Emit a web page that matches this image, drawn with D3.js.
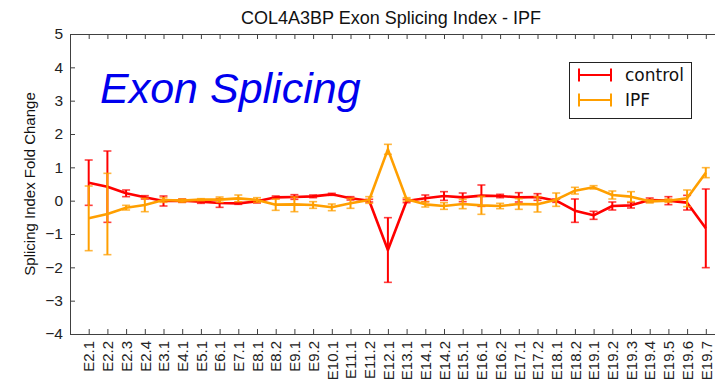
<!DOCTYPE html>
<html>
<head>
<meta charset="utf-8">
<script src="https://cdn.jsdelivr.net/npm/d3@7"></script>
<style>
  body { margin: 0; background: #fff; }
  svg { display: block; font-family: "Liberation Sans", Arial, sans-serif; }
</style>
</head>
<body>
<svg width="715" height="385"></svg>
<script>
// exon labels along the x axis
let exons = ['E2.1','E2.2','E2.3','E2.4','E3.1','E4.1','E5.1','E6.1','E7.1','E8.1',
    'E8.2','E9.1','E9.2','E10.1','E11.1','E11.2','E12.1','E13.1','E14.1','E14.2',
    'E15.1','E16.1','E16.2','E17.1','E17.2','E18.1','E18.2','E19.1','E19.2','E19.3',
    'E19.4','E19.5','E19.6','E19.7'];

// control series: mean and error
let controlMean = [0.54, 0.42, 0.22, 0.1, -0.01, 0.0, -0.03, -0.07, -0.08, -0.02,
    0.1, 0.11, 0.13, 0.19, 0.07, 0.0, -1.48, -0.01, 0.07, 0.14,
    0.1, 0.15, 0.14, 0.1, 0.11, 0.0, -0.3, -0.44, -0.16, -0.14,
    0.02, 0.0, -0.06, -0.83];
let controlErr = [0.68, 1.07, 0.1, 0.05, 0.15, 0.05, 0.05, 0.13, 0.03, 0.05,
    0.04, 0.07, 0.04, 0.03, 0.05, 0.04, 0.97, 0.05, 0.1, 0.13,
    0.13, 0.32, 0.05, 0.14, 0.1, 0.05, 0.35, 0.12, 0.12, 0.08,
    0.06, 0.12, 0.22, 1.18];

// IPF series: mean and error
let ipfMean = [-0.53, -0.4, -0.21, -0.13, 0.02, 0.0, 0.03, 0.03, 0.07, 0.02,
    -0.12, -0.11, -0.13, -0.2, -0.08, 0.02, 1.54, 0.04, -0.11, -0.16,
    -0.1, -0.14, -0.16, -0.1, -0.11, 0.03, 0.3, 0.4, 0.17, 0.12,
    -0.02, 0.0, 0.07, 0.84];
let ipfErr = [0.97, 1.22, 0.07, 0.2, 0.07, 0.05, 0.03, 0.08, 0.1, 0.07,
    0.17, 0.22, 0.1, 0.1, 0.15, 0.1, 0.15, 0.05, 0.08, 0.1,
    0.14, 0.27, 0.08, 0.16, 0.23, 0.2, 0.1, 0.05, 0.12, 0.15,
    0.05, 0.05, 0.25, 0.15];

let yTicks = [-4, -3, -2, -1, 0, 1, 2, 3, 4, 5];

let svg = d3.select('svg');
let axisColor = '#404040';

// plot area (right edge falls outside the picture, as in the original)
let plot = {l: 70, r: 724.5, t: 34, b: 334};

let xScale = d3.scaleLinear().domain([0, exons.length + 1]).range([plot.l, plot.r]);
let yScale = d3.scaleLinear().domain([-4, 5]).range([plot.b, plot.t]);

// title
svg.append('text')
    .attr('x', 391)
    .attr('y', 24)
    .attr('text-anchor', 'middle')
    .attr('font-size', '18px')
    .attr('fill', '#111')
    .text('COL4A3BP Exon Splicing Index - IPF');

// left axis
let yAxis = svg.append('g')
    .attr('transform', 'translate(' + plot.l + ',0)')
    .call(d3.axisLeft(yScale).tickValues(yTicks).tickSizeInner(-5).tickSizeOuter(0).tickPadding(7));

// bottom axis
let xAxis = svg.append('g')
    .attr('transform', 'translate(0,' + plot.b + ')')
    .call(d3.axisBottom(xScale)
        .tickValues(d3.range(1, exons.length + 1))
        .tickFormat(i => exons[i - 1])
        .tickSizeInner(-5).tickSizeOuter(0).tickPadding(7));

xAxis.selectAll('text')
    .attr('transform', 'rotate(-90)')
    .attr('text-anchor', 'end')
    .attr('dy', '0.35em')
    .attr('x', -7)
    .attr('y', 0);

// top axis, ticks only
let topAxis = svg.append('g')
    .attr('transform', 'translate(0,' + plot.t + ')')
    .call(d3.axisTop(xScale)
        .tickValues(d3.range(1, exons.length + 1))
        .tickFormat('')
        .tickSizeInner(-5).tickSizeOuter(0));

[yAxis, xAxis, topAxis].forEach(function(g) {
    g.selectAll('path').attr('stroke', axisColor);
    g.selectAll('line').attr('stroke', axisColor);
    g.selectAll('text').attr('fill', '#222').attr('font-size', '15.5px')
        .attr('font-family', '"Liberation Sans", Arial, sans-serif');
});
xAxis.selectAll('text').attr('font-size', '15px');

// y axis label
svg.append('text')
    .attr('transform', 'translate(' + [35, (plot.t + plot.b) / 2] + ') rotate(-90)')
    .attr('text-anchor', 'middle')
    .attr('font-size', '15px')
    .attr('fill', '#111')
    .text('Splicing Index Fold Change');

// big annotation
svg.append('text')
    .attr('x', 100)
    .attr('y', 103)
    .attr('font-size', '43px')
    .attr('font-style', 'italic')
    .attr('fill', '#0000ee')
    .text('Exon Splicing');

function drawSeries(means, errs, color) {
    let g = svg.append('g');
    let capW = 4;

    for (let i = 0; i < means.length; i++) {
        let x = xScale(i + 1);
        let y1 = yScale(means[i] + errs[i]);
        let y2 = yScale(means[i] - errs[i]);
        g.append('line')
            .attr('x1', x).attr('x2', x).attr('y1', y1).attr('y2', y2)
            .attr('stroke', color).attr('stroke-width', 2);
        g.append('line')
            .attr('x1', x - capW).attr('x2', x + capW).attr('y1', y1).attr('y2', y1)
            .attr('stroke', color).attr('stroke-width', 1.6).attr('opacity', 0.75);
        g.append('line')
            .attr('x1', x - capW).attr('x2', x + capW).attr('y1', y2).attr('y2', y2)
            .attr('stroke', color).attr('stroke-width', 1.6).attr('opacity', 0.75);
    }

    let line = d3.line()
        .x((d, i) => xScale(i + 1))
        .y(d => yScale(d));

    g.append('path')
        .datum(means)
        .attr('d', line)
        .attr('fill', 'none')
        .attr('stroke', color)
        .attr('stroke-width', 2.6)
        .attr('stroke-linejoin', 'round');
}

drawSeries(controlMean, controlErr, '#ff0000');
drawSeries(ipfMean, ipfErr, '#ff9f00');

// legend
let legend = svg.append('g').attr('transform', 'translate(569,62)');
legend.append('rect')
    .attr('x', 0.5).attr('y', 0.5)
    .attr('width', 122).attr('height', 56)
    .attr('fill', '#fff')
    .attr('stroke', '#222')
    .attr('stroke-width', 1);

let legendItems = [['control', '#ff0000'], ['IPF', '#ff9f00']];
legendItems.forEach(function(item, i) {
    let cy = 13 + i * 25;
    legend.append('line')
        .attr('x1', 10).attr('x2', 42).attr('y1', cy).attr('y2', cy)
        .attr('stroke', item[1]).attr('stroke-width', 2);
    [10, 42].forEach(function(cx) {
        legend.append('line')
            .attr('x1', cx).attr('x2', cx).attr('y1', cy - 6.5).attr('y2', cy + 6.5)
            .attr('stroke', item[1]).attr('stroke-width', 2);
    });
    legend.append('text')
        .attr('x', 56)
        .attr('y', cy + 6)
        .attr('font-size', '17px')
        .attr('font-family', '"DejaVu Sans", sans-serif')
        .attr('fill', '#111')
        .text(item[0]);
});
</script>
</body>
</html>
